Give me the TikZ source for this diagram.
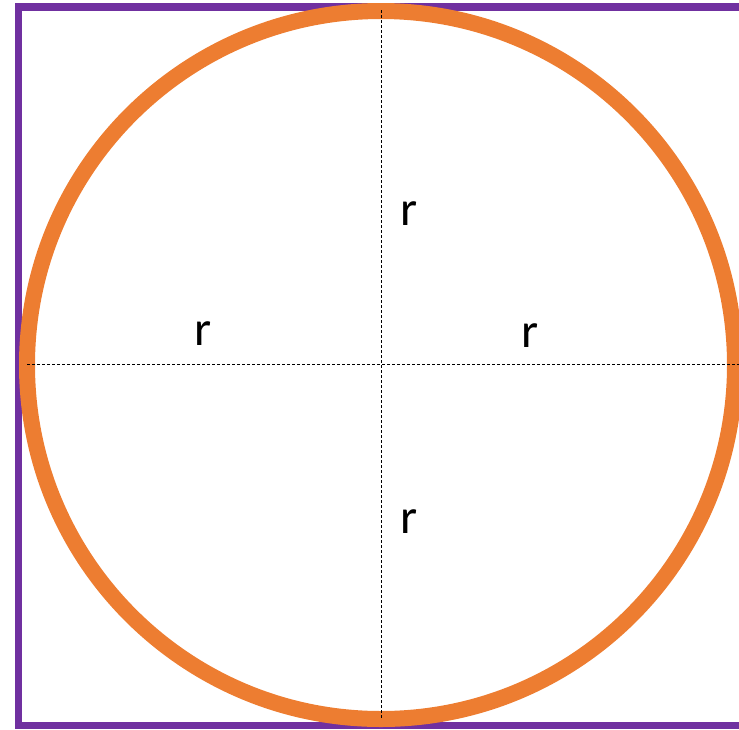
\documentclass[tikz,border=0pt]{standalone}
\usepackage{fontspec}
\setmainfont{Carlito}
\definecolor{officeorange}{HTML}{ED7D31}
\definecolor{officepurple}{HTML}{7030A0}
\begin{document}
\begin{tikzpicture}[x=1pt,y=-1pt,
  frameline/.style={draw=officepurple,line width=7.5pt},
  ringline/.style={draw=officeorange,line width=16pt},
  guide/.style={draw=black,line width=0.9pt,dash pattern=on 3pt off 2pt},
  rlabel/.style={font=\fontsize{49}{50}\selectfont,inner sep=0pt}]
\useasboundingbox (0,0) rectangle (739,729);
\begin{scope}
\clip (0,0) rectangle (739,729);
\draw[frameline] (760,7) -- (18.5,7) -- (18.5,725.5) -- (760,725.5);
\coordinate (c) at (381,365);
\draw[ringline] (c) circle[radius=354];
\coordinate (top) at (381,10);
\coordinate (bot) at (381,718);
\coordinate (lft) at (27,364);
\coordinate (rgt) at (739,364);
\draw[guide] (top) -- (bot);
\draw[guide] (lft) -- (rgt);
\end{scope}
\node[rlabel] (r1) at (409,214) {r};
\node[rlabel] (r2) at (203,334) {r};
\node[rlabel] (r3) at (530,336) {r};
\node[rlabel] (r4) at (409,522) {r};
\end{tikzpicture}
\end{document}
